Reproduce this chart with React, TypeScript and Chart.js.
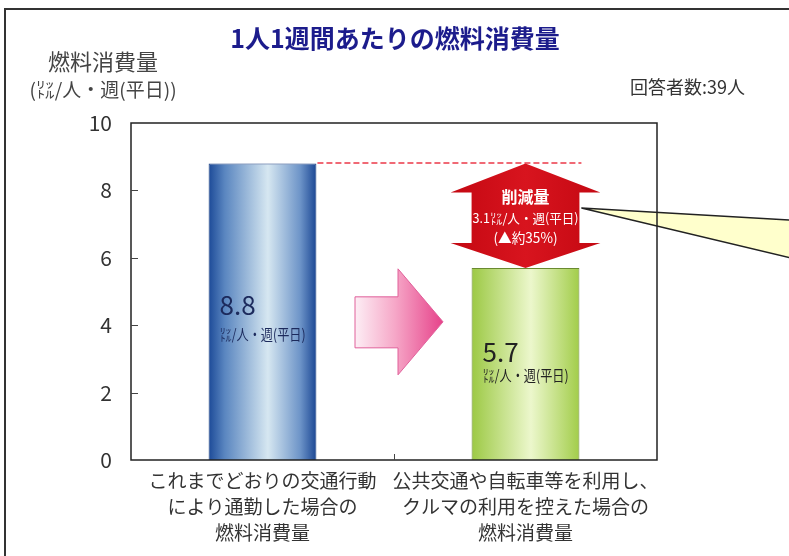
import React, { useEffect, useRef } from "react";
import { Chart, registerables } from "chart.js";

Chart.register(...registerables);

const FONT = '"Noto Sans CJK JP", "Noto Sans", sans-serif';

const chartTitle = "1人1週間あたりの燃料消費量";
const yTitleLines = ["燃料消費量", "(㍑/人・週(平日))"];
const respondentNote = "回答者数:39人";
const categories = [
  ["これまでどおりの交通行動", "により通勤した場合の", "燃料消費量"],
  ["公共交通や自転車等を利用し、", "クルマの利用を控えた場合の", "燃料消費量"],
];
const fuelValues = [8.8, 5.7];
const yTickValues = [0, 2, 4, 6, 8, 10];
const unitLabel = "㍑/人・週(平日)";
const reductionLines = ["削減量", "3.1㍑/人・週(平日)", "(▲約35%)"];

const W = 789;
const H = 556;
const BAR_PCT = 0.41;

function barBounds(chart: any, i: number) {
  const xs = chart.scales.x;
  const ca = chart.chartArea;
  const cx = xs.getPixelForValue(i);
  const half = ((ca.right - ca.left) / categories.length) * BAR_PCT / 2;
  return { cx, l: cx - half, r: cx + half };
}

function barFill(ctx: any) {
  const chart = ctx.chart;
  if (!chart.chartArea || !chart.scales.x) return "#3060a8";
  const b = barBounds(chart, ctx.dataIndex);
  const g = chart.ctx.createLinearGradient(b.l, 0, b.r, 0);
  if (ctx.dataIndex === 0) {
    g.addColorStop(0, "#1c4a98");
    g.addColorStop(0.15, "#5a86c0");
    g.addColorStop(0.55, "#d6e7f1");
    g.addColorStop(0.85, "#6d94c8");
    g.addColorStop(1, "#1b4794");
  } else {
    g.addColorStop(0, "#9cc944");
    g.addColorStop(0.55, "#ecf7cc");
    g.addColorStop(1, "#a2cd4a");
  }
  return g;
}

const decorPlugin = {
  id: "decor",
  afterDraw(chart: any) {
    const ctx = chart.ctx;
    const ca = chart.chartArea;
    const ys = chart.scales.y;
    const xs = chart.scales.x;
    ctx.save();

    // outer frame
    ctx.strokeStyle = "#333";
    ctx.lineWidth = 2;
    ctx.beginPath();
    ctx.moveTo(5, H);
    ctx.lineTo(5, 9);
    ctx.lineTo(W, 9);
    ctx.stroke();

    // title
    ctx.fillStyle = "#1c1c8c";
    ctx.font = `bold 25px ${FONT}`;
    ctx.textAlign = "center";
    ctx.textBaseline = "middle";
    ctx.fillText(chartTitle, 395, 38);

    // y title
    ctx.fillStyle = "#444";
    ctx.font = `22px ${FONT}`;
    ctx.fillText(yTitleLines[0], 103, 62);
    ctx.font = `19px ${FONT}`;
    ctx.fillText(yTitleLines[1], 103, 90, 158);

    // respondents
    ctx.fillStyle = "#333";
    ctx.font = `18px ${FONT}`;
    ctx.textAlign = "right";
    ctx.fillText(respondentNote, 745, 87);

    // yellow callout wedge
    const b1 = barBounds(chart, 1);
    const tipX = b1.r + 2;
    const tipY = 208;
    ctx.fillStyle = "#ffffcc";
    ctx.strokeStyle = "#222";
    ctx.lineWidth = 1.5;
    ctx.beginPath();
    ctx.moveTo(W + 2, 220);
    ctx.lineTo(tipX, tipY);
    ctx.lineTo(W + 2, 258);
    ctx.closePath();
    ctx.fill();
    ctx.beginPath();
    ctx.moveTo(W + 2, 220);
    ctx.lineTo(tipX, tipY);
    ctx.lineTo(W + 2, 258);
    ctx.stroke();

    // plot box
    ctx.strokeStyle = "#222";
    ctx.lineWidth = 1.5;
    ctx.strokeRect(ca.left, ca.top, ca.right - ca.left, ca.bottom - ca.top);
    // inward ticks
    ctx.lineWidth = 1;
    ctx.strokeStyle = "#444";
    yTickValues.forEach((v) => {
      if (v === 0 || v === 10) return;
      const y = Math.round(ys.getPixelForValue(v)) + 0.5;
      ctx.beginPath();
      ctx.moveTo(ca.left, y);
      ctx.lineTo(ca.left + 7, y);
      ctx.stroke();
    });
    const xb = (xs.getPixelForValue(0) + xs.getPixelForValue(1)) / 2;
    ctx.beginPath();
    ctx.moveTo(Math.round(xb) + 0.5, ca.bottom);
    ctx.lineTo(Math.round(xb) + 0.5, ca.bottom - 6);
    ctx.stroke();

    // dashed reference line
    const b0 = barBounds(chart, 0);
    const yTop = ys.getPixelForValue(fuelValues[0]);
    const yLow = ys.getPixelForValue(fuelValues[1]);
    ctx.strokeStyle = "#ec3848";
    ctx.lineWidth = 1.5;
    ctx.setLineDash([6, 3]);
    ctx.beginPath();
    ctx.moveTo(b0.r + 1, Math.round(yTop));
    ctx.lineTo(b1.r + 2, Math.round(yTop));
    ctx.stroke();
    ctx.setLineDash([]);

    // pink arrow
    const pcy = ca.top + (ca.bottom - ca.top) * 0.59;
    const pl = xb - 39, ph = xb + 4, pt = xb + 49;
    const pg = ctx.createLinearGradient(pl, 0, pt, 0);
    pg.addColorStop(0, "#fdeef5");
    pg.addColorStop(0.45, "#f6a8c8");
    pg.addColorStop(1, "#e6428a");
    ctx.fillStyle = pg;
    ctx.strokeStyle = "#e0609a";
    ctx.lineWidth = 1;
    ctx.beginPath();
    ctx.moveTo(pl, pcy - 25);
    ctx.lineTo(ph, pcy - 25);
    ctx.lineTo(ph, pcy - 53);
    ctx.lineTo(pt, pcy);
    ctx.lineTo(ph, pcy + 53);
    ctx.lineTo(ph, pcy + 26);
    ctx.lineTo(pl, pcy + 26);
    ctx.closePath();
    ctx.fill();
    ctx.stroke();

    // red double arrow
    const cx = b1.cx;
    const sh = b1.r - b1.l;
    const shaftHalf = sh / 2;
    const headHalf = shaftHalf + 21;
    const rg = ctx.createLinearGradient(cx - headHalf, 0, cx + headHalf, 0);
    rg.addColorStop(0, "#c40812");
    rg.addColorStop(0.5, "#d8141e");
    rg.addColorStop(1, "#c40812");
    ctx.fillStyle = rg;
    ctx.beginPath();
    ctx.moveTo(cx, yTop);
    ctx.lineTo(cx + headHalf, yTop + 29);
    ctx.lineTo(cx + shaftHalf, yTop + 29);
    ctx.lineTo(cx + shaftHalf, yLow - 25);
    ctx.lineTo(cx + headHalf, yLow - 25);
    ctx.lineTo(cx, yLow);
    ctx.lineTo(cx - headHalf, yLow - 25);
    ctx.lineTo(cx - shaftHalf, yLow - 25);
    ctx.lineTo(cx - shaftHalf, yTop + 29);
    ctx.lineTo(cx - headHalf, yTop + 29);
    ctx.closePath();
    ctx.fill();

    ctx.fillStyle = "#fff";
    ctx.textAlign = "center";
    ctx.font = `bold 16px ${FONT}`;
    ctx.fillText(reductionLines[0], cx, 197);
    ctx.font = `13px ${FONT}`;
    ctx.fillText(reductionLines[1], cx, 218, 106);
    ctx.font = `14px ${FONT}`;
    ctx.fillText(reductionLines[2], cx, 238, 64);

    // bar value labels
    const labelYs = [[305, 334], [352, 375]];
    const labelCols = ["#1c2a5c", "#222"];
    fuelValues.forEach((v, i) => {
      const b = barBounds(chart, i);
      ctx.textAlign = "left";
      ctx.fillStyle = labelCols[i];
      ctx.font = `26px ${FONT}`;
      ctx.fillText(v.toFixed(1), b.l + 11, labelYs[i][0]);
      ctx.font = `15px ${FONT}`;
      ctx.fillText(unitLabel, b.l + 11, labelYs[i][1], 86);
    });

    ctx.restore();
  },
};

export default function App() {
  const ref = useRef<HTMLCanvasElement | null>(null);
  useEffect(() => {
    document.body.style.margin = "0";
    document.body.style.background = "#fff";
    const canvas = ref.current;
    if (!canvas) return;
    const chart = new Chart(canvas, {
      type: "bar",
      data: {
        labels: categories as any,
        datasets: [
          {
            data: fuelValues,
            backgroundColor: barFill as any,
            borderColor: ["#1a3f80", "#6a8a30"],
            borderWidth: 1,
            barPercentage: BAR_PCT,
            categoryPercentage: 1,
          },
        ],
      },
      options: {
        animation: false,
        responsive: true,
        maintainAspectRatio: false,
        layout: { padding: { left: 0, top: 123, right: W - 657, bottom: 0 } },
        plugins: { legend: { display: false }, tooltip: { enabled: false } },
        scales: {
          x: {
            grid: { display: false, drawTicks: false },
            border: { display: false },
            ticks: {
              padding: 8,
              color: "#333",
              font: { family: FONT, size: 19, lineHeight: 1.37 },
              maxRotation: 0,
              autoSkip: false,
            },
            afterFit: (s: any) => {
              s.height = 96;
            },
          },
          y: {
            min: 0,
            max: 10,
            afterBuildTicks: (s: any) => {
              s.ticks = yTickValues.map((v) => ({ value: v }));
            },
            grid: { display: false, drawTicks: false },
            border: { display: false },
            ticks: {
              padding: 19,
              color: "#333",
              font: { family: FONT, size: 21 },
            },
            afterFit: (s: any) => {
              s.width = 131;
            },
          },
        },
      },
      plugins: [decorPlugin],
    });
    return () => chart.destroy();
  }, []);
  return (
    <div style={{ width: W, height: H, position: "relative", background: "#fff" }}>
      <canvas ref={ref} />
    </div>
  );
}
